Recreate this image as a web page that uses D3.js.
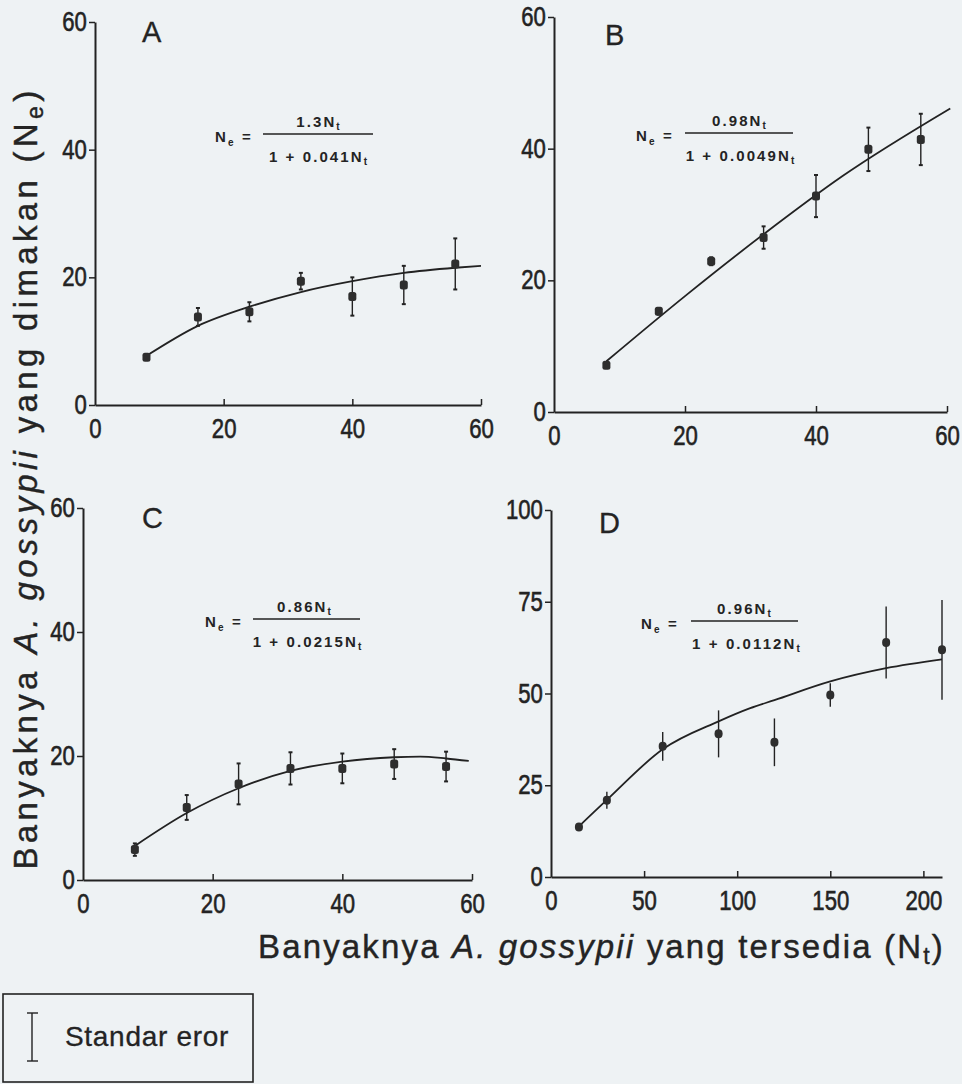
<!DOCTYPE html>
<html>
<head>
<meta charset="utf-8">
<script src="https://cdn.jsdelivr.net/npm/d3@7"></script>
<style>
  body { margin: 0; background: #eef2f4; }
  svg { display: block; }
  text { fill: #242424; font-family: "Liberation Sans", Arial, Helvetica, sans-serif; }
</style>
</head>
<body>
<svg id="chart"></svg>
<script>
// ---- data ----
// panel A
const nA = [8, 16, 24, 32, 40, 48, 56];
const meanA = [7.5, 13.8, 14.6, 19.4, 17.0, 18.8, 22.1];
const seA = [0.4, 1.4, 1.5, 1.3, 3.0, 3.0, 4.0];
const fitNA = [8, 16, 24, 32, 40, 48, 56, 60];
const fitA = [7.7, 12.4, 15.4, 17.7, 19.4, 20.7, 21.5, 21.8];

// panel B
const nB = [8, 16, 24, 32, 40, 48, 56];
const meanB = [7.1, 15.3, 22.9, 26.5, 32.8, 39.9, 41.4];
const seB = [0.4, 0.5, 0.6, 1.7, 3.2, 3.3, 3.9];
const fitNB = [8, 20, 32, 44, 60.5];
const fitB = [7.7, 17.6, 27.0, 35.8, 46.1];

// panel C
const nC = [8, 16, 24, 32, 40, 48, 56];
const meanC = [4.9, 11.7, 15.5, 18.0, 18.0, 18.7, 18.3];
const seC = [1.0, 2.0, 3.3, 2.6, 2.4, 2.4, 2.4];
const fitNC = [8, 16, 24, 32, 40, 48, 52, 56, 59.5];
const fitC = [5.5, 10.8, 14.8, 17.6, 19.1, 19.8, 19.9, 19.6, 19.2];

// panel D
const nD = [15, 30, 60, 90, 120, 150, 180, 210];
const meanD = [13.6, 20.9, 35.6, 39.0, 36.7, 49.6, 63.9, 61.9];
const seD = [0.6, 2.3, 3.9, 6.4, 6.5, 3.2, 9.8, 13.6];
const fitND = [15, 30, 60, 90, 107, 120, 150, 180, 210];
const fitD = [13.8, 21.0, 34.8, 42.4, 46.0, 48.2, 53.3, 56.9, 59.3];

// ticks
const ticks60 = [0, 20, 40, 60];
const ticksDx = [0, 50, 100, 150, 200];
const ticksDy = [0, 25, 50, 75, 100];

// equation coefficients (numerator, denominator)
const eqNum = ["1.3", "0.98", "0.86", "0.96"];
const eqDen = ["0.041", "0.0049", "0.0215", "0.0112"];
const panelNames = ["A", "B", "C", "D"];

const W = 962, H = 1084;
const ink = "#222";

const svg = d3.select("#chart").attr("width", W).attr("height", H);
svg.append("rect").attr("width", W).attr("height", H).attr("fill", "#eef2f4");

function panel(p) {
  const x = d3.scaleLinear().domain(p.xDomain).range(p.xRange);
  const y = d3.scaleLinear().domain(p.yDomain).range(p.yRange);
  const g = svg.append("g");

  // x axis, ticks point up into the plot
  const xa = g.append("g")
    .attr("transform", `translate(0,${p.yRange[0]})`)
    .call(d3.axisBottom(x).tickValues(p.xTicks).tickSizeInner(-6).tickSizeOuter(0).tickPadding(14));
  // y axis, ticks point out
  const ya = g.append("g")
    .attr("transform", `translate(${p.xRange[0]},0)`)
    .call(d3.axisLeft(y).tickValues(p.yTicks).tickSizeInner(6).tickSizeOuter(0).tickPadding(2));

  [xa, ya].forEach(a => {
    a.select(".domain").attr("stroke", ink).attr("stroke-width", 2);
    a.selectAll(".tick line").attr("stroke", ink).attr("stroke-width", 1.5);
    a.selectAll(".tick text")
      .attr("fill", ink)
      .attr("stroke", ink).attr("stroke-width", 0.6)
      .style("font-family", '"Liberation Sans", Arial, sans-serif')
      .style("font-size", "27px");
  });
  // narrow-looking digits
  xa.selectAll(".tick text").attr("transform", "scale(0.82,1)");
  ya.selectAll(".tick text").attr("transform", "scale(0.82,1)").attr("x", -10);
  xa.selectAll(".tick").filter(d => d === 0).select("line").remove();

  // fitted curve
  const pts = p.fitN.map((n, i) => [n, p.fit[i]]);
  g.append("path")
    .datum(pts)
    .attr("fill", "none")
    .attr("stroke", ink)
    .attr("stroke-width", 1.8)
    .attr("d", d3.line().x(d => x(d[0])).y(d => y(d[1])).curve(d3.curveMonotoneX));

  // error bars
  const obs = p.n.map((n, i) => ({ n: n, m: p.mean[i], se: p.se[i] }));
  const eb = g.append("g").selectAll("g").data(obs).enter().append("g");
  eb.append("line")
    .attr("x1", d => x(d.n)).attr("x2", d => x(d.n))
    .attr("y1", d => y(d.m - d.se)).attr("y2", d => y(d.m + d.se))
    .attr("stroke", ink).attr("stroke-width", 1.4);
  if (p.caps) {
    [-1, 1].forEach(s => {
      eb.append("line")
        .attr("x1", d => x(d.n) - 2).attr("x2", d => x(d.n) + 2)
        .attr("y1", d => y(d.m + s * d.se)).attr("y2", d => y(d.m + s * d.se))
        .attr("stroke", ink).attr("stroke-width", 2);
    });
  }
  // markers (rounded squares, round dots in D)
  g.append("g").selectAll("rect").data(obs).enter().append("rect")
    .attr("x", d => x(d.n) - 4).attr("y", d => y(d.m) - 4.5)
    .attr("width", 8).attr("height", 9).attr("rx", p.caps ? 2.5 : 4)
    .attr("fill", "#2e2e2e");

  // panel letter
  g.append("text")
    .attr("x", p.letter[0]).attr("y", p.letter[1])
    .attr("stroke", ink).attr("stroke-width", 0.3)
    .style("font-size", "29px")
    .text(p.name);

  // equation
  const e = p.eq;
  const eg = g.append("g").style("font-size", "15px").style("font-weight", "bold").style("letter-spacing", "2.1px");
  const lhs = eg.append("text").attr("x", e.lhsX).attr("y", e.barY + 8);
  lhs.append("tspan").text("N");
  lhs.append("tspan").attr("dy", 4).style("font-size", "10px").text("e");
  lhs.append("tspan").attr("dy", -4).text(" =");
  eg.append("line")
    .attr("x1", e.barX1).attr("x2", e.barX2).attr("y1", e.barY).attr("y2", e.barY)
    .attr("stroke", ink).attr("stroke-width", 1.6);
  const num = eg.append("text").attr("x", e.numX).attr("y", e.barY - 7).attr("text-anchor", "middle");
  num.append("tspan").text(p.num + "N");
  num.append("tspan").attr("dy", 3).style("font-size", "10px").text("t");
  const den = eg.append("text").attr("x", e.denX).attr("y", e.barY + 28).attr("text-anchor", "middle");
  den.append("tspan").text("1 + " + p.den + "N");
  den.append("tspan").attr("dy", 3).style("font-size", "10px").text("t");
}

panel({
  name: panelNames[0], n: nA, mean: meanA, se: seA, fitN: fitNA, fit: fitA,
  xDomain: [0, 60], xRange: [95, 481], yDomain: [0, 60], yRange: [405, 22],
  xTicks: ticks60, yTicks: ticks60, caps: true, letter: [142, 42],
  num: eqNum[0], den: eqDen[0],
  eq: { lhsX: 215, barX1: 263, barX2: 373, barY: 134, numX: 319, denX: 319 }
});
panel({
  name: panelNames[1], n: nB, mean: meanB, se: seB, fitN: fitNB, fit: fitB,
  xDomain: [0, 60], xRange: [554, 947], yDomain: [0, 60], yRange: [412, 17],
  xTicks: ticks60, yTicks: ticks60, caps: true, letter: [605, 45],
  num: eqNum[1], den: eqDen[1],
  eq: { lhsX: 636, barX1: 685, barX2: 793, barY: 133, numX: 740, denX: 741 }
});
panel({
  name: panelNames[2], n: nC, mean: meanC, se: seC, fitN: fitNC, fit: fitC,
  xDomain: [0, 60], xRange: [83, 472], yDomain: [0, 60], yRange: [880, 508],
  xTicks: ticks60, yTicks: ticks60, caps: true, letter: [142, 528],
  num: eqNum[2], den: eqDen[2],
  eq: { lhsX: 205, barX1: 253, barX2: 360, barY: 619, numX: 305, denX: 308 }
});
panel({
  name: panelNames[3], n: nD, mean: meanD, se: seD, fitN: fitND, fit: fitD,
  xDomain: [0, 210], xRange: [551, 942], yDomain: [0, 100], yRange: [877, 510],
  xTicks: ticksDx, yTicks: ticksDy, caps: false, letter: [599, 533],
  num: eqNum[3], den: eqDen[3],
  eq: { lhsX: 641, barX1: 691, barX2: 798, barY: 621, numX: 745, denX: 747 }
});

// spread a text's letters so it spans a given width
function fitWidth(t, width) {
  const w = t.node().getComputedTextLength();
  const n = t.text().length;
  t.style("letter-spacing", ((width - w) / n) + "px");
}

// y axis title
const yt = svg.append("text")
  .attr("transform", "translate(37,478) rotate(-90)")
  .attr("text-anchor", "middle")
  .attr("stroke", ink).attr("stroke-width", 0.4)
  .style("font-size", "33px");
yt.append("tspan").text("Banyaknya ");
yt.append("tspan").style("font-style", "italic").text("A. gossypii");
yt.append("tspan").text(" yang dimakan (N");
yt.append("tspan").attr("dy", "0.25em").style("font-size", "0.7em").text("e");
yt.append("tspan").attr("dy", "-0.175em").text(")");
fitWidth(yt, 783);

// x axis title
const xt = svg.append("text")
  .attr("x", 258).attr("y", 958)
  .attr("stroke", ink).attr("stroke-width", 0.4)
  .style("font-size", "33px");
xt.append("tspan").text("Banyaknya ");
xt.append("tspan").style("font-style", "italic").text("A. gossypii");
xt.append("tspan").text(" yang tersedia (N");
xt.append("tspan").attr("dy", "0.25em").style("font-size", "0.7em").text("t");
xt.append("tspan").attr("dy", "-0.175em").text(")");
fitWidth(xt, 687);

// legend
const lg = svg.append("g");
lg.append("rect")
  .attr("x", 3).attr("y", 994).attr("width", 250).attr("height", 88)
  .attr("fill", "none").attr("stroke", ink).attr("stroke-width", 1.6);
lg.append("line").attr("x1", 32).attr("x2", 32).attr("y1", 1013).attr("y2", 1061)
  .attr("stroke", ink).attr("stroke-width", 1.4);
[1013, 1061].forEach(yy => {
  lg.append("line").attr("x1", 27).attr("x2", 38).attr("y1", yy).attr("y2", yy)
    .attr("stroke", ink).attr("stroke-width", 1.4);
});
const lt = lg.append("text").attr("x", 65).attr("y", 1046)
  .attr("stroke", ink).attr("stroke-width", 0.3)
  .style("font-size", "28px").text("Standar eror");
fitWidth(lt, 164);
</script>
</body>
</html>
